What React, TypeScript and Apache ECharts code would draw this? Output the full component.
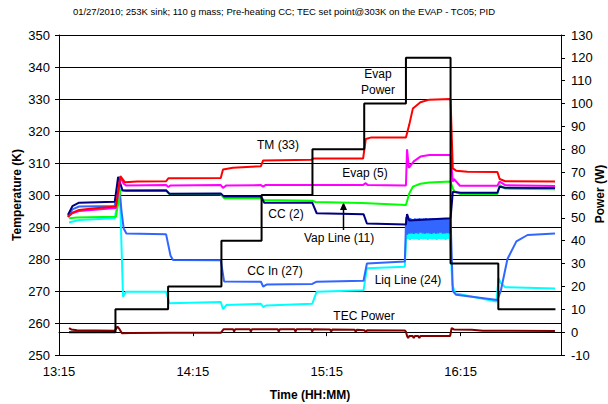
import React, { useEffect, useRef } from 'react';
import * as echarts from 'echarts';

// x values are minutes after 13:15
const xTickLabels = ['13:15', '14:15', '15:15', '16:15'];

const tmData = [
  [4, 293.2], [6, 294.5], [9, 295.3], [15, 295.8], [25.5, 296.4], [27.5, 305.9], [29.5, 304.0],
  [35, 304.2], [48, 304.3], [49, 305.2], [72.5, 305.3], [73.5, 308.0], [78, 308.5], [90.5, 309.0],
  [91.5, 310.8], [113, 311.0], [114, 311.4], [136.3, 311.4], [137.5, 317.5], [140, 318.0],
  [155.5, 318.0], [157, 322.0], [158.6, 327.0], [162, 329.0], [166, 329.8], [175.5, 330.0],
  [176.5, 308.3], [178, 307.6], [183, 307.3], [196.5, 307.2], [197.5, 305.0], [200, 304.3], [222.3, 304.2],
];

const evapData = [
  [4, 293.2], [6, 294.3], [9, 295.0], [25.5, 295.9], [27.5, 305.5], [29, 303.5], [30, 303.0],
  [48, 303.1], [49, 302.5], [50, 303.0], [72.5, 303.1], [73.5, 302.2], [75, 303.0], [90.5, 303.1],
  [91.5, 302.6], [92.5, 303.1], [136.3, 303.1], [137.3, 303.7], [138.5, 303.1], [155.5, 303.0],
  [156, 314.3], [156.8, 308.5], [159, 310.5], [162, 312.0], [166, 312.5], [175.5, 312.5],
  [176.5, 304.2], [177, 305.0], [179.7, 302.9], [196.5, 302.9], [197.5, 304.2], [200, 303.1], [222.3, 302.8],
];

const vapLineData = [
  [4.5, 292.7], [8, 293.0], [25.5, 293.2], [27.5, 301.4], [29, 301.6], [48, 301.6], [49.5, 300.3],
  [72.5, 300.2], [74, 299.0], [90.5, 299.0], [92, 298.4], [113.5, 298.2], [115, 297.8], [136, 297.5],
  [155.5, 296.9], [157, 300.5], [158.6, 302.6], [162, 303.5], [166, 303.9], [175.5, 304.2],
  [176.5, 302.0], [177.5, 301.0], [180, 300.3], [196.5, 300.3], [197.5, 303.1], [200, 302.0], [222.3, 301.8],
];

const ccData = [
  [4, 293.8], [6, 296.5], [9, 297.6], [25, 297.9], [26.5, 305.7], [28.5, 301.4], [30, 301.3],
  [48, 301.4], [49.5, 300.4], [72.5, 300.5], [74, 299.5], [90.5, 299.5], [92, 297.6], [113.5, 297.6],
  [115.5, 294.3], [136.5, 294.0], [138, 291.1], [155.5, 290.8], [156, 294.0], [157, 292.0],
  [161, 292.2], [175.5, 292.7], [176.5, 301.0], [180, 300.7], [196.5, 300.7], [197.5, 302.6],
  [200, 302.3], [222.3, 302.2],
];

const ccInData = [
  [4, 293.2], [6, 295.5], [9, 296.4], [25, 296.6], [26.8, 305.0], [28, 295.0], [29, 289.5],
  [30.2, 288.0], [48, 287.7], [50, 281.0], [51.1, 279.7], [72.5, 279.6], [74, 273.0], [90.5, 272.9],
  [91.5, 271.4], [93, 272.0], [113.5, 272.2], [115.5, 272.9], [136.5, 273.2], [138, 278.6], [155, 279.2],
  [155.6, 293.0], [156.0, 287.6], [156.5, 292.6], [157.0, 287.9], [157.5, 292.8], [158.0, 288.0],
  [158.5, 292.5], [159.0, 287.8], [159.5, 292.7], [160.0, 288.1], [160.5, 292.6], [161.0, 287.9],
  [161.5, 292.8], [162.0, 288.2], [162.5, 292.6], [163.0, 288.0], [163.5, 292.7], [164.0, 287.9],
  [164.5, 292.8], [165.0, 288.1], [165.5, 292.6], [166.0, 288.0], [166.5, 292.7], [167.0, 287.8],
  [167.5, 292.8], [168.0, 288.1], [168.5, 292.6], [169.0, 287.9], [169.5, 292.7], [170.0, 288.0],
  [170.5, 292.8], [171.0, 288.2], [171.5, 292.6], [172.0, 287.9], [172.5, 292.7], [173.0, 288.0],
  [173.5, 292.8], [174.0, 288.1], [174.5, 292.6], [175.0, 288.0], [175.5, 292.7],
  [176.5, 270.0], [178, 268.8], [196.5, 267.2], [198, 270.0], [201, 280.0], [205, 285.5],
  [210, 287.5], [222.3, 288.0],
];

const liqLineData = [
  [4.5, 291.4], [9, 292.2], [25, 292.7], [26.8, 300.0], [27.5, 296.0], [28.7, 268.2], [30, 269.8],
  [48, 269.8], [49.5, 266.2], [72.5, 266.6], [73.5, 264.3], [75, 265.6], [90.5, 266.0], [91.5, 265.0],
  [93, 265.5], [113.5, 266.0], [115.5, 269.8], [136.5, 270.2], [138, 277.1], [155, 277.6],
  [155.8, 289.5], [156.3, 286.2], [156.8, 289.8], [157.3, 286.0], [157.8, 289.6], [158.3, 286.3],
  [158.8, 289.7], [159.3, 286.1], [159.8, 289.5], [160.3, 286.2], [160.8, 289.8], [161.3, 286.0],
  [161.8, 289.6], [162.3, 286.3], [162.8, 289.7], [163.3, 286.1], [163.8, 289.5], [164.3, 286.2],
  [164.8, 289.8], [165.3, 286.0], [165.8, 289.6], [166.3, 286.3], [166.8, 289.7], [167.3, 286.1],
  [167.8, 289.5], [168.3, 286.2], [168.8, 289.8], [169.3, 286.0], [169.8, 289.6], [170.3, 286.3],
  [170.8, 289.7], [171.3, 286.1], [171.8, 289.5], [172.3, 286.2], [172.8, 289.8], [173.3, 286.0],
  [173.8, 289.6], [174.3, 286.3], [174.8, 289.7], [175.3, 286.5],
  [176.3, 272.0], [177.5, 269.3], [196.1, 266.7], [197, 274.0], [198, 272.5], [200, 271.2], [222.3, 270.8],
];

// right axis (W)
const evapPowerData = [
  [4.5, 0], [25.3, 0], [25.3, 10], [48.9, 10], [48.9, 20], [72.8, 20], [72.8, 40], [90.8, 40],
  [90.8, 60], [113.6, 60], [113.6, 80], [136.8, 80], [136.8, 100], [155.5, 100], [155.5, 120],
  [175.5, 120], [175.5, 30], [196.9, 30], [196.9, 10], [222.5, 10],
];

const tecPowerData = [
  [4.5, 1.8], [5.5, 1.2], [8, 0.8], [25, 0.6], [26.2, 2.4], [27.2, 1.2], [28.2, -0.5], [32, -0.4],
  [50, -0.3], [72.5, -0.3], [73.8, 1.3], [78, 1.3], [78.5, 0.3], [79, 1.3], [85.5, 1.3], [86, 0.3],
  [86.5, 1.3], [98, 1.3], [98.5, 0.3], [99, 1.3], [105.5, 1.3], [106, 0.3], [106.5, 1.3], [113, 1.3],
  [113.5, 0.3], [114, 1.3], [121.5, 1.2], [122, 0.3], [122.5, 1.2], [132.5, 1.0], [133, 0.2],
  [133.5, 1.0], [137, 0.8], [137.5, -0.2], [138, 0.8], [155, 0.7], [155.5, 0.2], [156, -1.7],
  [156.5, -2.6], [157, -1.7], [158.5, -1.7], [159, -2.6], [159.5, -1.7], [161, -1.7], [161.5, -2.6],
  [162, -1.7], [175.3, -1.7], [176, 1.8], [177, 1.2], [185, 1.0], [190, 0.6], [222.3, 0.5],
];

const FONT = '"Liberation Sans", Arial, Helvetica, sans-serif';

export default function App() {
  const ref = useRef<HTMLDivElement>(null);
  useEffect(() => {
    if (!ref.current) return;
    const chart = echarts.init(ref.current, null, { renderer: 'svg' });
    const line = (name: string, data: number[][], color: string, yAxisIndex = 0, width = 2) => ({
      type: 'line', name, data, yAxisIndex, showSymbol: false, symbol: 'none', silent: true,
      lineStyle: { color, width }, itemStyle: { color },
    });
    const txt = (text: string, x: number, y: number, extra: any = {}) => ({
      type: 'text', x, y, silent: true,
      style: { text, fill: '#000', font: `12px ${FONT}`, textAlign: 'center', textVerticalAlign: 'middle', ...extra },
    });
    chart.setOption({
      animation: false,
      textStyle: { fontFamily: FONT },
      grid: { left: 59, right: 47, top: 35, bottom: 49 },
      xAxis: {
        type: 'value', min: 0, max: 225, interval: 60,
        axisLine: { lineStyle: { color: '#000', width: 1 } },
        axisTick: { show: true, length: 4, lineStyle: { color: '#000' } },
        splitLine: { show: false },
        axisLabel: {
          color: '#000', fontSize: 13, margin: 10, fontFamily: FONT,
          formatter: (v: number) => xTickLabels[Math.round(v / 60)] ?? '',
        },
      },
      yAxis: [
        {
          type: 'value', min: 250, max: 350, interval: 10,
          axisLine: { show: true, lineStyle: { color: '#000', width: 1 } },
          axisTick: { show: true, length: 4, lineStyle: { color: '#000' } },
          splitLine: { show: true, lineStyle: { color: '#000', width: 1 } },
          axisLabel: { color: '#000', fontSize: 13, margin: 9, fontFamily: FONT },
        },
        {
          type: 'value', position: 'right', min: -10, max: 130, interval: 10,
          axisLine: { show: true, lineStyle: { color: '#000', width: 1 } },
          axisTick: { show: true, length: 4, lineStyle: { color: '#000' } },
          splitLine: { show: false },
          axisLabel: { color: '#000', fontSize: 13, margin: 10, fontFamily: FONT },
        },
      ],
      series: [
        line('TEC Power', tecPowerData, '#800000', 1),
        line('Liq Line (24)', liqLineData, '#00FFFF'),
        line('CC In (27)', ccInData, '#3366FF'),
        line('Vap Line (11)', vapLineData, '#00FF00'),
        line('CC (2)', ccData, '#000080'),
        line('Evap (5)', evapData, '#FF00FF'),
        line('TM (33)', tmData, '#FF0000'),
        line('Evap Power', evapPowerData, '#000000', 1),
      ],
      graphic: [
        txt('01/27/2010; 253K sink; 110 g mass; Pre-heating CC; TEC set point@303K on the EVAP - TC05; PID', 284, 11, { font: `9.5px ${FONT}` }),
        { ...txt('Temperature (K)', 17, 195, { font: `bold 12px ${FONT}` }), rotation: Math.PI / 2 },
        { ...txt('Power (W)', 600, 194, { font: `bold 12px ${FONT}` }), rotation: Math.PI / 2 },
        txt('Time (HH:MM)', 310, 395, { font: `bold 12px ${FONT}` }),
        txt('Evap', 378, 74),
        txt('Power', 378, 90),
        txt('TM (33)', 278, 145),
        txt('Evap (5)', 365, 173),
        txt('CC (2)', 286, 214),
        txt('Vap Line (11)', 339, 238),
        txt('CC In (27)', 275, 271),
        txt('Liq Line (24)', 408, 280),
        txt('TEC Power', 364, 316),
        { type: 'line', silent: true, shape: { x1: 343.5, y1: 230, x2: 343.5, y2: 208 }, style: { stroke: '#000', lineWidth: 1.5 } },
        { type: 'polygon', silent: true, shape: { points: [[343.5, 202], [340, 210], [347, 210]] }, style: { fill: '#000' } },
      ],
    });
    return () => chart.dispose();
  }, []);
  return <div ref={ref} style={{ position: 'absolute', left: 0, top: 0, width: 608, height: 404 }} />;
}
